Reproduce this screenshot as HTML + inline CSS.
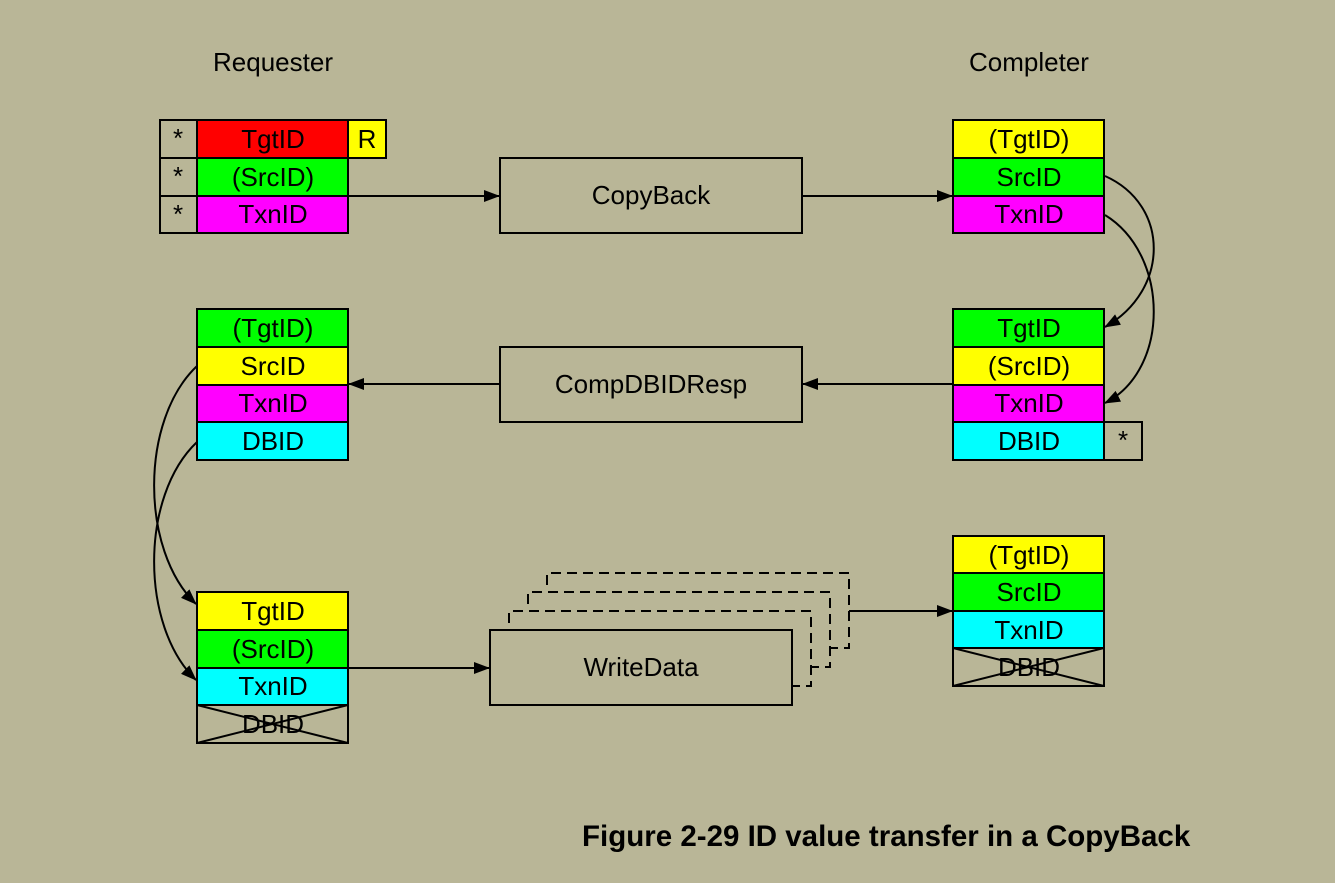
<!DOCTYPE html>
<html><head><meta charset="utf-8"><style>
html,body{margin:0;padding:0;background:#b9b697;}
svg{display:block;}
text{font-family:"Liberation Sans",sans-serif;font-size:26px;fill:#000;}
</style></head><body>
<svg width="1335" height="883" viewBox="0 0 1335 883" xmlns="http://www.w3.org/2000/svg">
<defs>
<marker id="a" markerWidth="16" markerHeight="12" refX="15" refY="6" orient="auto" markerUnits="userSpaceOnUse">
<path d="M0,0 L16,6 L0,12 Z" fill="#000"/></marker>
</defs>
<rect width="1335" height="883" fill="#b9b697"/>
<g stroke="#000" stroke-width="2">
<rect x="160" y="120" width="37" height="38" fill="#b9b697"/>
<rect x="160" y="158" width="37" height="38" fill="#b9b697"/>
<rect x="160" y="196" width="37" height="37" fill="#b9b697"/>
<rect x="197" y="120" width="151" height="38" fill="#ff0000"/>
<rect x="197" y="158" width="151" height="38" fill="#00ff00"/>
<rect x="197" y="196" width="151" height="37" fill="#ff00ff"/>
<rect x="348" y="120" width="38" height="38" fill="#ffff00"/>
<rect x="953" y="120" width="151" height="38" fill="#ffff00"/>
<rect x="953" y="158" width="151" height="38" fill="#00ff00"/>
<rect x="953" y="196" width="151" height="37" fill="#ff00ff"/>
<rect x="500" y="158" width="302" height="75" fill="none"/>
<rect x="953" y="309" width="151" height="38" fill="#00ff00"/>
<rect x="953" y="347" width="151" height="38" fill="#ffff00"/>
<rect x="953" y="385" width="151" height="37" fill="#ff00ff"/>
<rect x="953" y="422" width="151" height="38" fill="#00ffff"/>
<rect x="1104" y="422" width="38" height="38" fill="none"/>
<rect x="500" y="347" width="302" height="75" fill="none"/>
<rect x="197" y="309" width="151" height="38" fill="#00ff00"/>
<rect x="197" y="347" width="151" height="38" fill="#ffff00"/>
<rect x="197" y="385" width="151" height="37" fill="#ff00ff"/>
<rect x="197" y="422" width="151" height="38" fill="#00ffff"/>
<rect x="197" y="592" width="151" height="38" fill="#ffff00"/>
<rect x="197" y="630" width="151" height="38" fill="#00ff00"/>
<rect x="197" y="668" width="151" height="37" fill="#00ffff"/>
<rect x="197" y="705" width="151" height="38" fill="none"/>
<line x1="197" y1="705" x2="348" y2="743"/><line x1="197" y1="743" x2="348" y2="705"/>
<rect x="953" y="536" width="151" height="37" fill="#ffff00"/>
<rect x="953" y="573" width="151" height="38" fill="#00ff00"/>
<rect x="953" y="611" width="151" height="37" fill="#00ffff"/>
<rect x="953" y="648" width="151" height="38" fill="none"/>
<line x1="953" y1="648" x2="1104" y2="686"/><line x1="953" y1="686" x2="1104" y2="648"/>
<rect x="490" y="630" width="302" height="75" fill="none"/>
</g>
<g stroke="#000" stroke-width="2" fill="none" stroke-dasharray="10,6">
<path d="M509,623 V611 H811 V686 H792"/>
<path d="M528,604 V592 H830 V667 H811"/>
<path d="M547,585 V573 H849 V648 H830"/>
</g>
<g stroke="#000" stroke-width="2" fill="none">
<line x1="348" y1="196" x2="499" y2="196" marker-end="url(#a)"/>
<line x1="802" y1="196" x2="952" y2="196" marker-end="url(#a)"/>
<line x1="953" y1="384" x2="803" y2="384" marker-end="url(#a)"/>
<line x1="500" y1="384" x2="349" y2="384" marker-end="url(#a)"/>
<line x1="348" y1="668" x2="489" y2="668" marker-end="url(#a)"/>
<line x1="849" y1="611" x2="952" y2="611" marker-end="url(#a)"/>
<path d="M1105,176 C1170,205 1170,290 1105,327" marker-end="url(#a)"/>
<path d="M1105,215 C1170,255 1170,370 1105,403" marker-end="url(#a)"/>
<path d="M197,366 C140,420 140,550 196,604" marker-end="url(#a)"/>
<path d="M197,442 C140,496 140,626 196,680" marker-end="url(#a)"/>
</g>
<g text-anchor="middle">
<text x="273" y="71">Requester</text>
<text x="1029" y="71">Completer</text>
<text x="178" y="147">*</text><text x="178" y="185">*</text><text x="178" y="223">*</text>
<text x="273" y="148">TgtID</text><text x="273" y="186">(SrcID)</text><text x="273" y="223">TxnID</text>
<text x="367" y="148">R</text>
<text x="1029" y="148">(TgtID)</text><text x="1029" y="186">SrcID</text><text x="1029" y="223">TxnID</text>
<text x="651" y="204">CopyBack</text>
<text x="1029" y="337">TgtID</text><text x="1029" y="375">(SrcID)</text><text x="1029" y="412">TxnID</text><text x="1029" y="450">DBID</text>
<text x="1123" y="449">*</text>
<text x="651" y="393">CompDBIDResp</text>
<text x="273" y="337">(TgtID)</text><text x="273" y="375">SrcID</text><text x="273" y="412">TxnID</text><text x="273" y="450">DBID</text>
<text x="273" y="620">TgtID</text><text x="273" y="658">(SrcID)</text><text x="273" y="695">TxnID</text><text x="273" y="733">DBID</text>
<text x="641" y="676">WriteData</text>
<text x="1029" y="564">(TgtID)</text><text x="1029" y="601">SrcID</text><text x="1029" y="639">TxnID</text><text x="1029" y="676">DBID</text>
</g>
<text x="582" y="846" style="font-size:29.5px;font-weight:bold">Figure 2-29 ID value transfer in a CopyBack</text>
</svg>
</body></html>
